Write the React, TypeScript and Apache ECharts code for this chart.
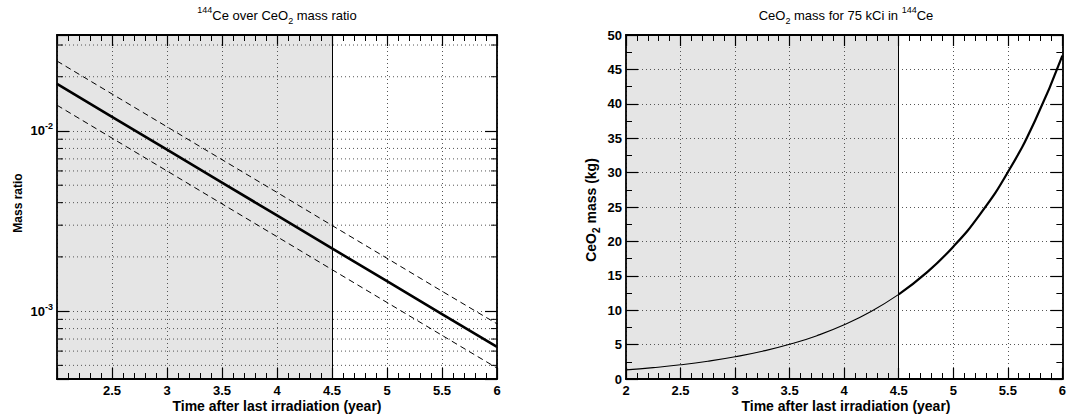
import React, { useEffect, useRef } from 'react';
import * as echarts from 'echarts';

// ---------- data ----------
const years = [2, 2.5, 3, 3.5, 4, 4.5, 5, 5.5, 6];
const ratioCentral = [0.01824, 0.01198, 0.00787, 0.00517, 0.0034, 0.00223, 0.001466, 0.000963, 0.000634];
const ratioUpper = [0.02444, 0.01605, 0.01055, 0.00693, 0.00456, 0.00299, 0.001965, 0.00129, 0.00085];
const ratioLower = [0.0139, 0.00913, 0.006, 0.00394, 0.00259, 0.0017, 0.001117, 0.000734, 0.000483];

const massYearsEarly = [2, 2.25, 2.5, 2.75, 3, 3.25, 3.5, 3.75, 4, 4.25, 4.5];
const massEarly = [1.32, 1.65, 2.06, 2.58, 3.23, 4.03, 5.04, 6.3, 7.88, 9.85, 12.3];
const massYearsLate = [4.5, 4.75, 5, 5.25, 5.5, 5.75, 6];
const massLate = [12.3, 15.38, 19.23, 24.04, 30.05, 37.57, 47.0];

const logMinorTicks = [5e-4, 6e-4, 7e-4, 8e-4, 9e-4, 2e-3, 3e-3, 4e-3, 5e-3, 6e-3, 7e-3, 8e-3, 9e-3, 2e-2, 3e-2];

const ratioRange = [4.2e-4, 0.0341];
const massRange = [0, 50];
const yearRange = [2, 6];
const shadedEnd = 4.5;

const FONT = '"Liberation Sans", Arial, Helvetica, sans-serif';

const GRID_TOP = 35;
const GRID_H = 344;
const GRID_W = 440;
const LEFT0 = 57;
const LEFT1 = 626;

const dotted = { color: '#555', width: 1, type: [1, 3] as number[] };

function xAxisDef(gridIndex: number, position: 'bottom' | 'top', labels: boolean, hideFirst: boolean) {
  return {
    type: 'value',
    gridIndex,
    position,
    min: yearRange[0],
    max: yearRange[1],
    interval: 0.5,
    z: 3,
    axisLine: { show: true, onZero: false, lineStyle: { color: '#000', width: 1.8 } },
    axisTick: { show: true, inside: true, length: 11, lineStyle: { color: '#000', width: 1.2 } },
    minorTick: { show: true, splitNumber: 5, length: 6, lineStyle: { color: '#000', width: 1 } },
    splitLine: { show: position === 'bottom', lineStyle: dotted },
    axisLabel: {
      show: labels,
      showMinLabel: true,
      showMaxLabel: true,
      margin: 5,
      color: '#000',
      fontFamily: FONT,
      fontWeight: 'bold',
      fontSize: 13,
      lineHeight: 13,
      formatter: (v: number) => (hideFirst && v === yearRange[0] ? '' : String(v)),
    },
  };
}

function isPow10(v: number) {
  const l = Math.log10(v);
  return Math.abs(l - Math.round(l)) < 1e-6;
}

function logYAxis(position: 'left' | 'right', labels: boolean) {
  return {
    type: 'log',
    logBase: 10,
    gridIndex: 0,
    position,
    min: ratioRange[0],
    max: ratioRange[1],
    z: 3,
    axisLine: { show: true, onZero: false, lineStyle: { color: '#000', width: 1.8 } },
    axisTick: { show: true, inside: true, length: 12, lineStyle: { color: '#000', width: 1.2 } },
    minorTick: { show: false },
    splitLine: { show: position === 'left', lineStyle: dotted },
    axisLabel: {
      show: labels,
      margin: 4,
      color: '#000',
      formatter: (v: number) => (isPow10(v) ? `{b|10}{s|-${Math.round(-Math.log10(v))}}` : ''),
      rich: {
        b: { fontFamily: FONT, fontWeight: 'bold', fontSize: 13, lineHeight: 18, verticalAlign: 'middle', color: '#000' },
        s: { fontFamily: FONT, fontWeight: 'bold', fontSize: 9, lineHeight: 10, verticalAlign: 'top', color: '#000' },
      },
    },
  };
}

function massYAxis(position: 'left' | 'right', labels: boolean) {
  return {
    type: 'value',
    gridIndex: 1,
    position,
    min: massRange[0],
    max: massRange[1],
    interval: 5,
    z: 3,
    axisLine: { show: true, onZero: false, lineStyle: { color: '#000', width: 1.8 } },
    axisTick: { show: true, inside: true, length: 12, lineStyle: { color: '#000', width: 1.2 } },
    minorTick: { show: true, splitNumber: 2, length: 6, lineStyle: { color: '#000', width: 1 } },
    splitLine: { show: position === 'left', lineStyle: dotted },
    axisLabel: {
      show: labels,
      showMinLabel: true,
      showMaxLabel: true,
      margin: 4,
      color: '#000',
      fontFamily: FONT,
      fontWeight: 'bold',
      fontSize: 13,
      lineHeight: 13,
    },
  };
}

function shadeSeries(xAxisIndex: number, yAxisIndex: number) {
  return {
    type: 'line',
    xAxisIndex,
    yAxisIndex,
    data: [],
    z: 1,
    silent: true,
    markArea: {
      silent: true,
      itemStyle: { color: '#e5e5e5' },
      data: [[{ xAxis: yearRange[0] }, { xAxis: shadedEnd }]],
    },
    markLine: {
      silent: true,
      symbol: 'none',
      label: { show: false },
      lineStyle: { color: '#000', width: 1, type: 'solid' },
      data: [{ xAxis: shadedEnd }],
    },
  };
}

const richTitle = {
  n: { fontFamily: FONT, fontSize: 13, lineHeight: 20, verticalAlign: 'middle', fill: '#000', color: '#000' },
  sup: { fontFamily: FONT, fontSize: 9, lineHeight: 9, verticalAlign: 'top', fill: '#000', color: '#000' },
  sub: { fontFamily: FONT, fontSize: 9, lineHeight: 9, verticalAlign: 'bottom', fill: '#000', color: '#000' },
};
const richName = {
  n: { fontFamily: FONT, fontSize: 14, fontWeight: 'bold', lineHeight: 20, verticalAlign: 'middle', fill: '#000', color: '#000' },
  sub: { fontFamily: FONT, fontSize: 10, fontWeight: 'bold', lineHeight: 9, verticalAlign: 'bottom', fill: '#000', color: '#000' },
};

export default function App() {
  const ref = useRef<HTMLDivElement>(null);

  useEffect(() => {
    if (!ref.current) return;
    const chart = echarts.init(ref.current, undefined, { renderer: 'svg' });

    const xName = (cx: number) => ({
      type: 'text',
      x: cx,
      y: 406,
      style: {
        text: 'Time after last irradiation (year)',
        align: 'center',
        verticalAlign: 'middle',
        font: `bold 14px ${FONT}`,
        lineHeight: 14,
        fill: '#000',
      },
    });

    const option: any = {
      animation: false,
      backgroundColor: '#fff',
      grid: [
        { left: LEFT0, top: GRID_TOP, width: GRID_W, height: GRID_H },
        { left: LEFT1, top: GRID_TOP, width: GRID_W, height: GRID_H },
      ],
      xAxis: [
        xAxisDef(0, 'bottom', true, true),
        xAxisDef(0, 'top', false, false),
        xAxisDef(1, 'bottom', true, false),
        xAxisDef(1, 'top', false, false),
      ],
      yAxis: [logYAxis('left', true), logYAxis('right', false), massYAxis('left', true), massYAxis('right', false)],
      graphic: [
        {
          type: 'text',
          x: LEFT0 + GRID_W / 2,
          y: 15,
          style: { text: '{sup|144}{n|Ce over CeO}{sub|2}{n| mass ratio}', align: 'center', verticalAlign: 'middle', rich: richTitle },
        },
        {
          type: 'text',
          x: LEFT1 + GRID_W / 2,
          y: 15,
          style: { text: '{n|CeO}{sub|2}{n| mass for 75 kCi in }{sup|144}{n|Ce}', align: 'center', verticalAlign: 'middle', rich: richTitle },
        },
        xName(LEFT0 + GRID_W / 2),
        xName(LEFT1 + GRID_W / 2),
        {
          type: 'text',
          x: 18,
          y: 203,
          rotation: Math.PI / 2,
          style: { text: 'Mass ratio', align: 'center', verticalAlign: 'middle', font: `bold 12px ${FONT}`, fill: '#000' },
        },
        {
          type: 'text',
          x: 591,
          y: 210,
          rotation: Math.PI / 2,
          style: { text: '{n|CeO}{sub|2}{n| mass (kg)}', align: 'center', verticalAlign: 'middle', rich: richName },
        },
      ],
      series: [
        shadeSeries(0, 0),
        shadeSeries(2, 2),
        {
          type: 'custom',
          xAxisIndex: 0,
          yAxisIndex: 0,
          z: 4,
          silent: true,
          clip: false,
          encode: { x: 0, y: 1 },
          data: logMinorTicks.map((v) => [yearRange[0], v]),
          renderItem: (_params: any, api: any) => {
            const v = api.value(1);
            const p0 = api.coord([yearRange[0], v]);
            const p1 = api.coord([yearRange[1], v]);
            return {
              type: 'group',
              children: [
                { type: 'line', shape: { x1: p0[0], y1: p0[1], x2: p1[0], y2: p1[1] }, style: { stroke: '#555', lineWidth: 1, lineDash: [1, 3] } },
                { type: 'line', shape: { x1: p0[0], y1: p0[1], x2: p0[0] + 6, y2: p0[1] }, style: { stroke: '#000', lineWidth: 1 } },
                { type: 'line', shape: { x1: p1[0] - 6, y1: p1[1], x2: p1[0], y2: p1[1] }, style: { stroke: '#000', lineWidth: 1 } },
              ],
            };
          },
        },
        {
          type: 'line',
          xAxisIndex: 0,
          yAxisIndex: 0,
          z: 5,
          showSymbol: false,
          silent: true,
          data: years.map((x, i) => [x, ratioUpper[i]]),
          lineStyle: { color: '#000', width: 1, type: [6, 4] },
        },
        {
          type: 'line',
          xAxisIndex: 0,
          yAxisIndex: 0,
          z: 5,
          showSymbol: false,
          silent: true,
          data: years.map((x, i) => [x, ratioLower[i]]),
          lineStyle: { color: '#000', width: 1, type: [6, 4] },
        },
        {
          type: 'line',
          xAxisIndex: 0,
          yAxisIndex: 0,
          z: 6,
          showSymbol: false,
          silent: true,
          data: years.map((x, i) => [x, ratioCentral[i]]),
          lineStyle: { color: '#000', width: 2.6 },
        },
        {
          type: 'line',
          xAxisIndex: 2,
          yAxisIndex: 2,
          z: 6,
          showSymbol: false,
          silent: true,
          smooth: true,
          data: massYearsEarly.map((x, i) => [x, massEarly[i]]),
          lineStyle: { color: '#000', width: 1.1 },
        },
        {
          type: 'line',
          xAxisIndex: 2,
          yAxisIndex: 2,
          z: 6,
          showSymbol: false,
          silent: true,
          smooth: true,
          data: massYearsLate.map((x, i) => [x, massLate[i]]),
          lineStyle: { color: '#000', width: 2.2 },
        },
      ],
    };

    chart.setOption(option);
    return () => chart.dispose();
  }, []);

  return (
    <div
      ref={ref}
      style={{ position: 'fixed', left: 0, top: 0, width: 1069, height: 418, background: '#fff' }}
    />
  );
}
